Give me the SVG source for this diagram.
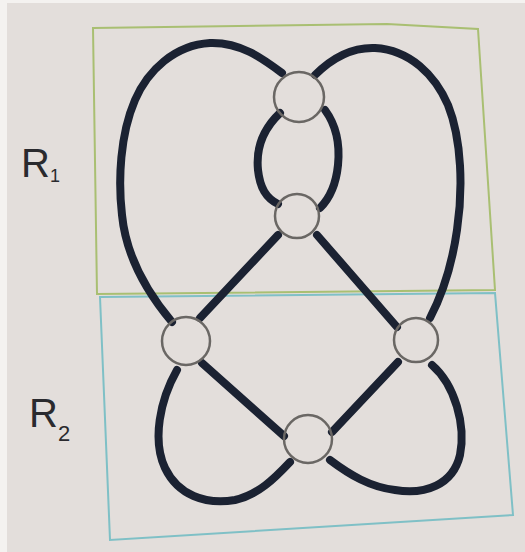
<svg xmlns="http://www.w3.org/2000/svg" width="525" height="552" viewBox="0 0 525 552">
<style>
.strand{fill:none;stroke:#1b2232;stroke-width:8;stroke-linecap:round;stroke-linejoin:round}
.xing{fill:none;stroke:#6a6764;stroke-width:2.5}
.label{font-family:"Liberation Sans",Arial,sans-serif;fill:#2a2a2e}
</style>
<rect x="0" y="0" width="525" height="552" fill="#f4f2f0"/>
<rect x="7" y="3" width="518" height="549" fill="#e3dedb"/>
<g id="regions">
<path id="R1-box" d="M93,28 L387,24 L478,29 L495,290 L97,294 Z" fill="none" stroke="#a9bf72" stroke-width="2"/>
<path id="R2-box" d="M100,297 L495,293 L513,515 L110,540 Z" fill="none" stroke="#7fc0c6" stroke-width="2"/>
</g>
<g id="labels">
<text class="label" x="21" y="177" font-size="40">R<tspan font-size="18" dy="5">1</tspan></text>
<text class="label" x="29" y="427" font-size="40">R<tspan font-size="22" dy="14">2</tspan></text>
</g>
<g id="connectors">
<path class="strand" d="M282,73 C262,58 240,42 210,43 C175,45 148,70 135,100 C120,135 118,180 122,215 C126,255 145,290 172,322"/>
<path class="strand" d="M315,75 C330,60 350,47 375,48 C410,50 435,75 448,105 C462,140 463,190 457,230 C452,265 442,295 430,318"/>
<path class="strand" d="M280,113 C262,130 256,150 258,170 C260,188 266,198 278,204"/>
<path class="strand" d="M325,110 C336,125 340,145 338,165 C336,185 330,198 320,208"/>
<path class="strand" d="M278,235 L200,318"/>
<path class="strand" d="M317,235 L397,327"/>
<path class="strand" d="M202,363 L284,436" stroke-width="9"/>
<path class="strand" d="M398,362 L332,432"/>
<path class="strand" d="M177,370 C160,400 152,440 165,468 C178,495 205,505 235,500 C258,495 275,478 290,462"/>
<path class="strand" d="M432,365 C455,385 466,425 460,455 C453,485 425,495 395,490 C370,487 350,475 330,460"/>
</g>
<g id="crossing-top"><circle class="xing" cx="299" cy="97" r="25"/></g>
<g id="crossing-mid"><circle class="xing" cx="297" cy="216" r="22"/></g>
<g id="crossing-left"><circle class="xing" cx="186" cy="341" r="24"/></g>
<g id="crossing-right"><circle class="xing" cx="416" cy="340" r="22"/></g>
<g id="crossing-bottom"><circle class="xing" cx="308" cy="439" r="24"/></g>
</svg>
